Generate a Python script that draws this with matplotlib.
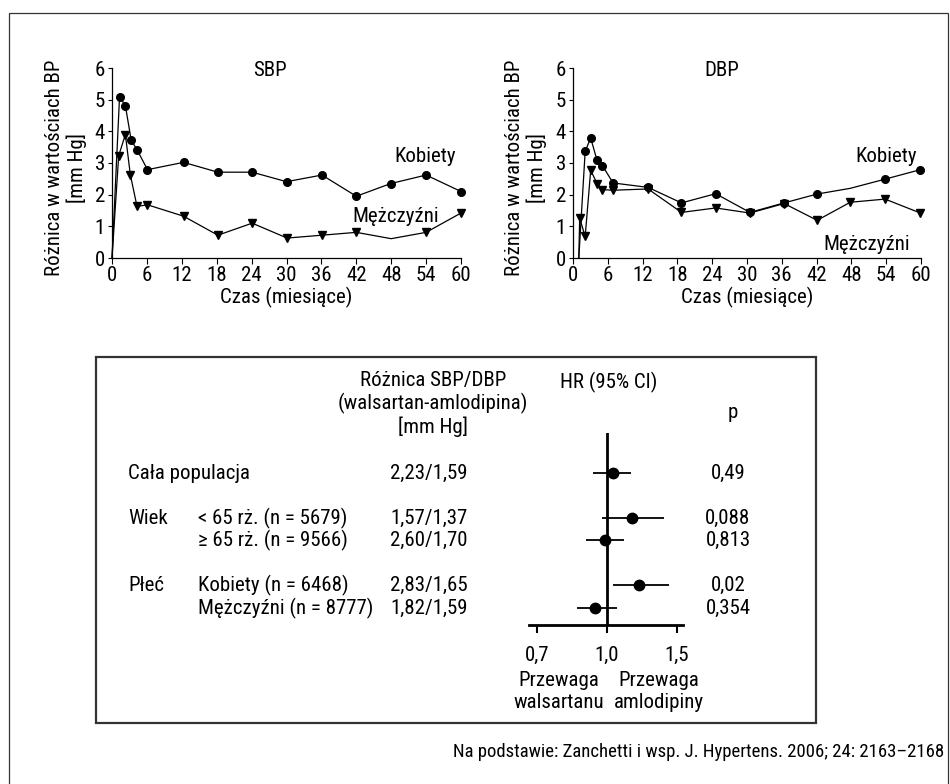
import matplotlib
matplotlib.use('Agg')
import matplotlib.pyplot as plt
from matplotlib.patches import Rectangle
import numpy as np

plt.rcParams['font.family'] = ['Roboto Condensed', 'DejaVu Sans']

W, H = 950, 784

# --- SBP panel ---
sbp_k_month = [0, 1.3, 2.3, 3.3, 4.3, 6.1, 12.3, 18.2, 24.1, 30, 36.1, 42, 47.9, 54, 60]
sbp_k = [0, 5.1, 4.81, 3.72, 3.42, 2.79, 3.02, 2.71, 2.71, 2.41, 2.62, 1.95, 2.35, 2.62, 2.1]
sbp_k_marks = list(range(1, 15))
sbp_m_month = [0, 1.15, 2.3, 3.15, 4.3, 6.1, 12.3, 18.2, 24.1, 30.1, 36.1, 42, 48, 54, 60]
sbp_m = [0, 3.23, 3.9, 2.63, 1.63, 1.68, 1.32, 0.72, 1.1, 0.63, 0.72, 0.81, 0.61, 0.81, 1.42]
sbp_m_marks = [1, 2, 3, 4, 5, 6, 7, 8, 9, 10, 11, 13, 14]

# --- DBP panel ---
dbp_k_month = [1.0, 2.1, 3.05, 4.15, 5.07, 6.9, 12.95, 18.7, 24.6, 30.5, 36.4, 42.1, 47.8, 53.8, 59.9]
dbp_k = [0, 3.37, 3.79, 3.08, 2.92, 2.37, 2.23, 1.74, 2.03, 1.44, 1.74, 2.02, 2.2, 2.49, 2.79]
dbp_k_marks = [1, 2, 3, 4, 5, 6, 7, 8, 9, 10, 11, 13, 14]
dbp_m_month = [1.0, 1.15, 2.1, 3.05, 4.15, 5.07, 6.9, 12.95, 18.7, 24.6, 30.5, 36.4, 42.1, 47.8, 53.8, 59.9]
dbp_m = [0, 1.26, 0.68, 2.77, 2.35, 2.16, 2.14, 2.18, 1.44, 1.58, 1.42, 1.72, 1.19, 1.76, 1.86, 1.42]
dbp_m_marks = list(range(1, 16))

# --- forest plot ---
groups = ['Cała populacja', 'Wiek', '', 'Płeć', '']
subgroups = ['', '< 65 rż. (n = 5679)', '≥ 65 rż. (n = 9566)',
             'Kobiety (n = 6468)', 'Mężczyźni (n = 8777)']
diffs = ['2,23/1,59', '1,57/1,37', '2,60/1,70', '2,83/1,65', '1,82/1,59']
hr = [1.04, 1.18, 0.99, 1.23, 0.95]
hr_lo = [0.94, 0.98, 0.91, 1.04, 0.87]
hr_hi = [1.17, 1.41, 1.12, 1.44, 1.07]
pvals = ['0,49', '0,088', '0,813', '0,02', '0,354']
hr_ticks = [0.7, 1.0, 1.5]
hr_ticklabels = ['0,7', '1,0', '1,5']
row_y = [0, 2, 3, 5, 6]

FS = 15


def fx(x):
    return x / W


def fy(y):
    return 1 - y / H


def add_ax(l, t, r, b):
    return fig.add_axes([fx(l), fy(b), (r - l) / W, (b - t) / H])


fig = plt.figure(figsize=(9.5, 7.84), dpi=100)

# outer frame
fig.add_artist(Rectangle((fx(9), -0.05), (948 - 9) / W, fy(13) + 0.05, fill=False,
                         lw=0.9, ec='#333333', transform=fig.transFigure))


def ts_panel(ax, title, tx, km, kv, kmk, mm, mv, mmk, klab, mlab):
    ax.plot(km, kv, color='k', lw=0.9, marker='o', ms=5.5, markevery=kmk, clip_on=False)
    ax.plot(mm, mv, color='k', lw=0.9, marker='v', ms=6, markevery=mmk, clip_on=False)
    ax.set_xlim(0, 60)
    ax.set_ylim(0, 6)
    ax.set_xticks(range(0, 61, 6))
    ax.set_yticks(range(7))
    for s in ('top', 'right'):
        ax.spines[s].set_visible(False)
    for s in ('left', 'bottom'):
        ax.spines[s].set_linewidth(0.9)
    ax.tick_params(axis='x', labelsize=FS, length=4, width=0.8, pad=2)
    ax.tick_params(axis='y', labelsize=FS, length=3, width=0.8, pad=2)
    ax.set_xlabel('Czas (miesiące)', fontsize=FS, labelpad=1)
    ax.text(tx, 5.93, title, ha='center', va='center', fontsize=FS)
    ax.text(klab[0], klab[1], 'Kobiety', ha='left', va='center', fontsize=FS)
    ax.text(mlab[0], mlab[1], 'Mężczyźni', ha='left', va='center', fontsize=FS)


ax1 = add_ax(112, 68, 461, 258)
ts_panel(ax1, 'SBP', 27.2, sbp_k_month, sbp_k, sbp_k_marks, sbp_m_month, sbp_m, sbp_m_marks,
         (48.5, 3.2), (41.3, 1.3))
ax2 = add_ax(573, 68, 921, 258)
ts_panel(ax2, 'DBP', 25.7, dbp_k_month, dbp_k, dbp_k_marks, dbp_m_month, dbp_m, dbp_m_marks,
         (48.6, 3.2), (43.2, 0.42))

ylab = 'Różnica w wartościach BP\n[mm Hg]'
fig.text(fx(66), fy(168), ylab, rotation=90, ha='center', va='center', fontsize=FS,
         multialignment='center', linespacing=1.15)
fig.text(fx(526), fy(168), ylab, rotation=90, ha='center', va='center', fontsize=FS,
         multialignment='center', linespacing=1.15)

# inner box
fig.add_artist(Rectangle((fx(96), fy(723)), (816 - 96) / W, (723 - 357) / H, fill=False,
                         lw=1.6, ec='#333333', transform=fig.transFigure))


def fwd(h):
    h = np.asarray(h, dtype=float)
    return np.where(h < 1, (h - 0.7) / 0.3, 1 + (h - 1) / 0.5)


def inv(u):
    u = np.asarray(u, dtype=float)
    return np.where(u < 1, 0.7 + 0.3 * u, 1 + 0.5 * (u - 1))


axf = add_ax(529, 433, 683, 625)
axf.set_xscale('function', functions=(fwd, inv))
axf.set_xlim(0.666, 1.5435)
axf.set_ylim(6.76, -1.78)
axf.hlines(row_y, hr_lo, hr_hi, color='k', lw=1.3)
axf.plot(hr, row_y, 'o', color='k', ms=7.5, ls='none')
axf.axvline(1.0, color='k', lw=2)
for s in ('top', 'right', 'left'):
    axf.spines[s].set_visible(False)
axf.spines['bottom'].set_linewidth(2)
axf.set_yticks([])
axf.set_xticks(hr_ticks)
axf.set_xticklabels(hr_ticklabels)
axf.xaxis.set_minor_locator(matplotlib.ticker.NullLocator())
axf.tick_params(axis='x', labelsize=FS, length=6, width=1.5, pad=9)


# table text, rows aligned to forest rows
def row_to_px(r):
    return 473 + 22.5 * r


for g, sg, d, p, r in zip(groups, subgroups, diffs, pvals, row_y):
    y = fy(row_to_px(r))
    if g:
        fig.text(fx(128), y, g, ha='left', va='center', fontsize=FS)
    if sg:
        fig.text(fx(198), y, sg, ha='left', va='center', fontsize=FS)
    fig.text(fx(390), y, d, ha='left', va='center', fontsize=FS)
    fig.text(fx(728), y, p, ha='center', va='center', fontsize=FS)

fig.text(fx(433), fy(404), 'Różnica SBP/DBP\n(walsartan-amlodipina)\n[mm Hg]',
         ha='center', va='center', fontsize=FS, multialignment='center', linespacing=1.15)
fig.text(fx(609), fy(382), 'HR (95% CI)', ha='center', va='center', fontsize=FS)
fig.text(fx(733), fy(412), 'p', ha='center', va='center', fontsize=FS)
fig.text(fx(559), fy(692), 'Przewaga\nwalsartanu', ha='center', va='center', fontsize=FS,
         multialignment='center', linespacing=1.2)
fig.text(fx(659), fy(692), 'Przewaga\namlodipiny', ha='center', va='center', fontsize=FS,
         multialignment='center', linespacing=1.2)

fig.text(fx(944), fy(752), 'Na podstawie: Zanchetti i wsp. J. Hypertens. 2006; 24: 2163–2168',
         ha='right', va='center', fontsize=13.5)

fig.savefig('out.png', dpi=100)
